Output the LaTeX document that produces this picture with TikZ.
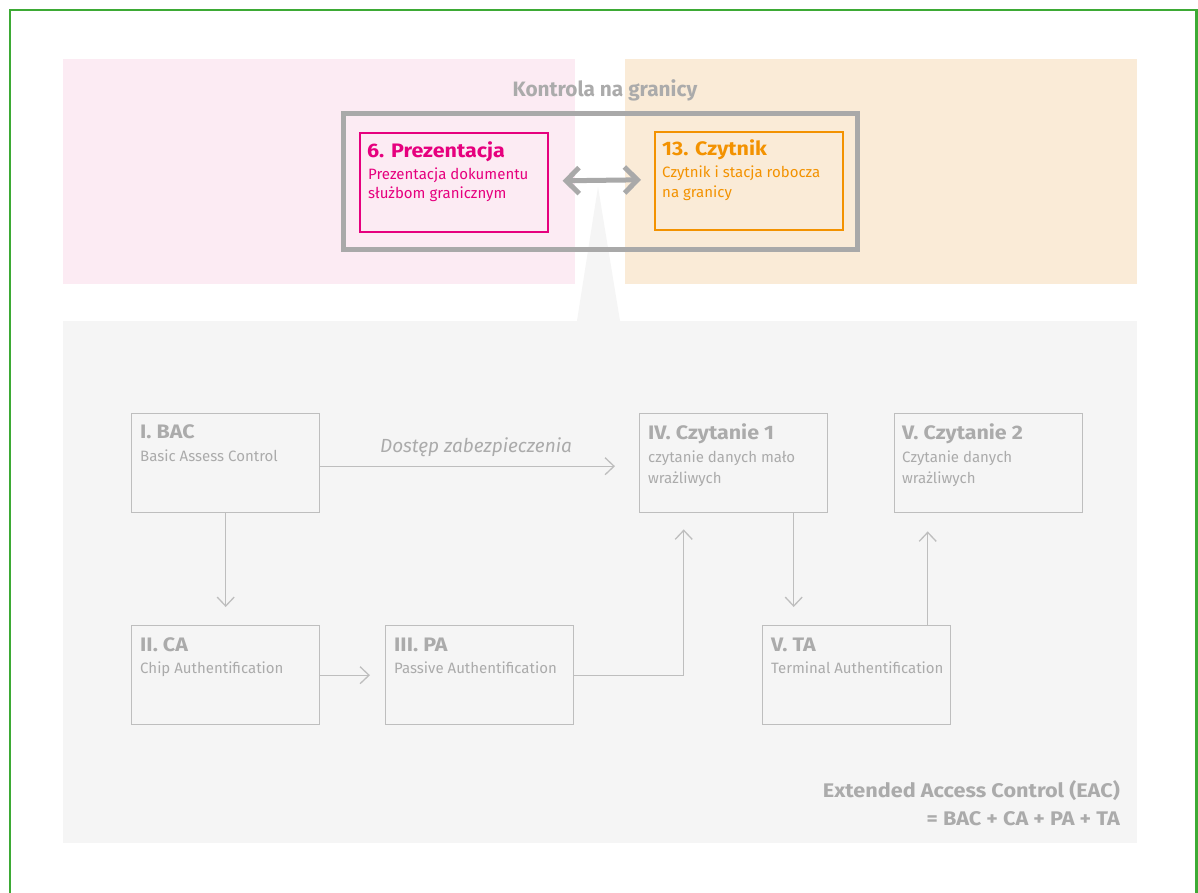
\documentclass[tikz,border=0pt]{standalone}
\usepackage{fontspec}
\setmainfont{Fira Sans}
\newfontfamily\widefont{Fira Sans}[FakeStretch=1.1]
\usetikzlibrary{arrows.meta}
\definecolor{gborder}{HTML}{3DAA35}
\definecolor{magenta}{HTML}{E6007E}
\definecolor{pinkbg}{HTML}{FCEBF3}
\definecolor{orange}{HTML}{F39200}
\definecolor{orangebg}{HTML}{FAEBD7}
\definecolor{graybg}{HTML}{F5F5F5}
\definecolor{boxline}{HTML}{BEBEBE}
\definecolor{txtgray}{HTML}{ABABAB}
\definecolor{framegray}{HTML}{A9A9A9}
\tikzset{
  stepbox/.style={draw=boxline, line width=1.4pt, fill=graybg, anchor=north west, inner sep=0pt, minimum width=188pt, minimum height=99pt},
  ttl/.style={anchor=base west, inner sep=0pt, text=txtgray, font=\widefont\fontsize{19.5}{21}\selectfont\bfseries},
  bdy/.style={anchor=base west, inner sep=0pt, text=txtgray, font=\fontsize{15}{18}\selectfont},
  arr/.style={draw=boxline, line width=1.3pt, -{Straight Barb[length=9pt,width=17pt,line width=1.3pt]}},
}
\begin{document}
\begin{tikzpicture}[x=1pt,y=-1pt]
\useasboundingbox (0,0) rectangle (1198,892);
\fill[white] (0,0) rectangle (1198,892);
% green border (open at the bottom)
\draw[gborder, line width=2.2pt] (10,895) -- (10,10) -- (1196.5,10) -- (1196.5,895);
% background areas
\fill[pinkbg] (63,59) rectangle (575,284);
\fill[orangebg] (625,59) rectangle (1137,284);
\fill[graybg] (63,321) rectangle (1137,843);
\fill[graybg] (598,187) -- (620,321) -- (577,321) -- cycle;
% border control frame
\node[draw=framegray, line width=4.5pt, anchor=north west, minimum width=514pt, minimum height=136pt, inner sep=0pt] (frame) at (341,111) {};
\node[anchor=base, inner sep=0pt, text=txtgray, font=\fontsize{20.8}{23}\selectfont\bfseries] (ftitle) at (605,96) {Kontrola na granicy};
% presentation box
\node[draw=magenta, line width=1.6pt, fill=pinkbg, anchor=north west, minimum width=188pt, minimum height=99pt, inner sep=0pt] (pres) at (359,132) {};
\node[anchor=base west, inner sep=0pt, text=magenta, font=\widefont\fontsize{19.5}{21}\selectfont\bfseries] (prest) at (367,157) {6. Prezentacja};
\node[anchor=base west, inner sep=0pt, text=magenta, font=\fontsize{15}{18}\selectfont] (presb1) at (368,179) {Prezentacja dokumentu};
\node[anchor=base west, inner sep=0pt, text=magenta, font=\fontsize{15}{18}\selectfont] (presb2) at (368,198) {służbom granicznym};
% reader box
\node[draw=orange, line width=1.6pt, fill=orangebg, anchor=north west, minimum width=188pt, minimum height=98pt, inner sep=0pt] (read) at (654,131) {};
\node[anchor=base west, inner sep=0pt, text=orange, font=\widefont\fontsize{19.5}{21}\selectfont\bfseries] (readt) at (662,155) {13. Czytnik};
\node[anchor=base west, inner sep=0pt, text=orange, font=\fontsize{15}{18}\selectfont] (readb1) at (662,177) {Czytnik i stacja robocza};
\node[anchor=base west, inner sep=0pt, text=orange, font=\fontsize{15}{18}\selectfont] (readb2) at (662,197) {na granicy};
% double arrow
\draw[framegray, line width=5pt, {Straight Barb[length=13pt,width=26pt,line width=5pt]}-{Straight Barb[length=13pt,width=26pt,line width=5pt]}] ([xshift=14pt,yshift=1.5pt]pres.east) -- ([xshift=-13pt,yshift=1pt]read.west);
% step boxes
\node[stepbox] (bac) at (131,413) {};
\node[ttl] at (140,438) {I. BAC};
\node[bdy] at (140,461) {Basic Assess Control};
\node[stepbox] (ca) at (131,625) {};
\node[ttl] at (140,651) {II. CA};
\node[bdy] at (140,673) {Chip Authentification};
\node[stepbox] (pa) at (385,625) {};
\node[ttl] at (394,651) {III. PA};
\node[bdy] at (394,673) {Passive Authentification};
\node[stepbox] (iv) at (639,413) {};
\node[ttl] at (648,439) {IV. Czytanie 1};
\node[bdy] at (648,462) {czytanie danych mało};
\node[bdy] at (648,483) {wrażliwych};
\node[stepbox] (vtwo) at (894,413) {};
\node[ttl] at (902,439) {V. Czytanie 2};
\node[bdy] at (902,462) {Czytanie danych};
\node[bdy] at (902,483) {wrażliwych};
\node[stepbox] (ta) at (762,625) {};
\node[ttl] at (771,651) {V. TA};
\node[bdy] at (771,673) {Terminal Authentification};
% connectors
\coordinate (bacout) at ([yshift=-3pt]bac.east);
\coordinate (ivin) at ([xshift=-24pt,yshift=-3pt]iv.west);
\draw[arr] (bacout) -- (ivin);
\node[anchor=base, inner sep=0pt, text=txtgray, font=\fontsize{19}{21}\selectfont\itshape] (lbl) at (476,452) {Dostęp zabezpieczenia};
\draw[arr] (bac.south) -- ([yshift=18pt]ca.north);
\draw[arr] (ca.east) -- ([xshift=-15pt]pa.west);
\coordinate (ivup) at ([xshift=-50pt,yshift=-16pt]iv.south);
\draw[arr] (pa.east) -| (ivup);
\coordinate (ivdown) at ([xshift=60pt]iv.south);
\draw[arr] (ivdown) -- ([yshift=18pt]ivdown |- ta.north);
\coordinate (taup) at ([xshift=71pt]ta.north);
\draw[arr] (taup) -- ([yshift=-18pt]taup |- vtwo.south);
% EAC note
\node[anchor=base east, inner sep=0pt, text=txtgray, font=\widefont\fontsize{19.7}{22}\selectfont\bfseries] (eac1) at (1120,797) {Extended Access Control (EAC)};
\node[anchor=base east, inner sep=0pt, text=txtgray, font=\widefont\fontsize{19.7}{22}\selectfont\bfseries] (eac2) at (1120,825) {= BAC + CA + PA + TA};
\end{tikzpicture}
\end{document}
